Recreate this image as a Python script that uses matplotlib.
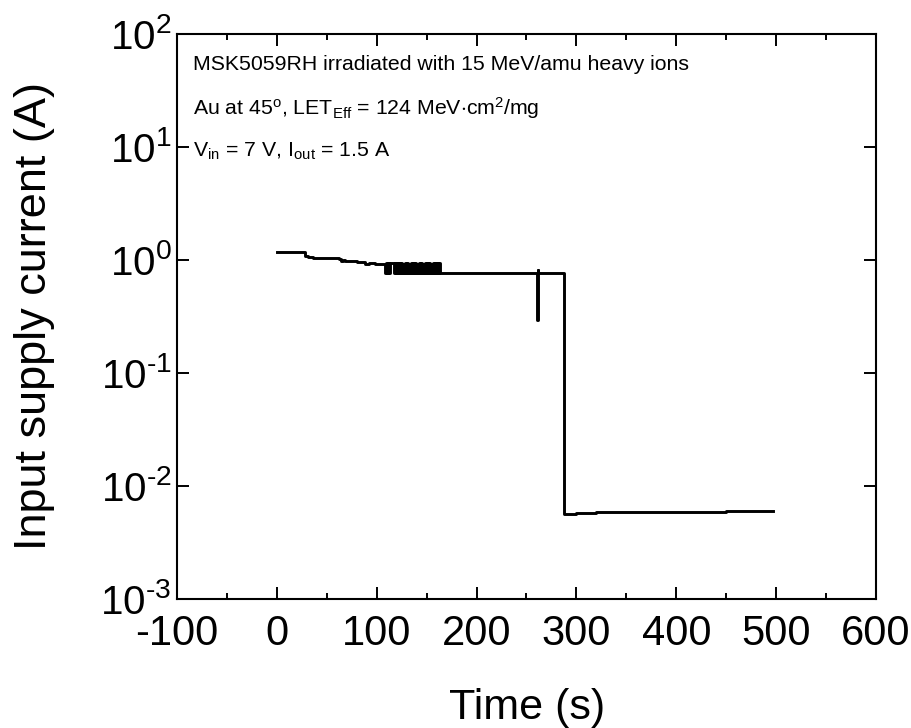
import matplotlib
matplotlib.use("Agg")
import matplotlib.pyplot as plt
from matplotlib.ticker import MultipleLocator, LogLocator, NullLocator, FuncFormatter
import math

plt.rcParams['font.family'] = ['Liberation Sans', 'DejaVu Sans']
plt.rcParams['mathtext.fontset'] = 'custom'
plt.rcParams['mathtext.rm'] = 'Liberation Sans'
plt.rcParams['mathtext.it'] = 'Liberation Sans'
plt.rcParams['mathtext.bf'] = 'Liberation Sans'
plt.rcParams['mathtext.sf'] = 'Liberation Sans'
plt.rcParams['axes.unicode_minus'] = False

# Data: time (s) and input supply current (A)
time_s = [0, 27, 28, 31, 33, 36, 45, 55, 62, 64, 66, 68, 70, 75, 80, 86, 88, 92, 98, 104, 107,
          108, 109, 110, 111, 112, 113, 114, 115, 117, 118, 119, 120, 121, 122, 123, 124,
          125, 126, 127, 128, 129, 130, 131, 132, 133, 134, 135, 136, 137, 138, 139, 140,
          141, 142, 143, 144, 145, 146, 147, 148, 149, 150, 151, 152, 153, 154, 155, 156,
          157, 158, 159, 160, 161, 162, 163, 165, 200, 240, 260, 261, 261.5, 262, 263, 287,
          287.5, 288, 300, 320, 350, 400, 450, 497]
current_a = [1.18, 1.17, 1.08, 1.07, 1.06, 1.05, 1.05, 1.04, 1.02, 0.97, 1.0, 0.98, 0.97, 0.97, 0.96,
             0.96, 0.93, 0.94, 0.93, 0.92, 0.92,
             0.76, 0.95, 0.76, 0.95, 0.76, 0.95, 0.95, 0.95, 0.76, 0.95, 0.76, 0.95, 0.76, 0.95, 0.76, 0.95,
             0.76, 0.93, 0.76, 0.95, 0.76, 0.95, 0.76, 0.93, 0.76, 0.95, 0.76, 0.95, 0.76, 0.95, 0.76, 0.93,
             0.76, 0.95, 0.76, 0.95, 0.76, 0.93, 0.76, 0.95, 0.76, 0.95, 0.76, 0.95, 0.76, 0.93, 0.76, 0.95,
             0.76, 0.95, 0.76, 0.95, 0.76, 0.95, 0.76, 0.77, 0.77, 0.77, 0.77, 0.295, 0.82, 0.77, 0.77, 0.77,
             0.0057, 0.0057, 0.0058, 0.0059, 0.0059, 0.0059, 0.006, 0.006]

annotation_lines = [
    "MSK5059RH irradiated with 15 MeV/amu heavy ions",
    "Au at 45$^{\\mathsf{o}}$, LET$_{\\mathsf{Eff}}$ = 124 MeV$\\cdot$cm$^{\\mathsf{2}}$/mg",
    "V$_{\\mathsf{in}}$ = 7 V, I$_{\\mathsf{out}}$ = 1.5 A",
]

fig = plt.figure(figsize=(9.12, 7.28), dpi=100)
ax = fig.add_axes([177/912, 1-599/728, (876-177)/912, (599-34)/728])

ax.plot(time_s, current_a, color='black', linewidth=2.1, drawstyle='steps-post')

ax.set_yscale('log')
ax.set_xlim(-100, 600)
ax.set_ylim(1e-3, 1e2)
ax.xaxis.set_major_locator(MultipleLocator(100))
ax.xaxis.set_minor_locator(MultipleLocator(50))
ax.yaxis.set_major_locator(LogLocator(base=10, numticks=10))
ax.yaxis.set_minor_locator(NullLocator())
ax.xaxis.set_major_formatter(FuncFormatter(lambda v, p: str(int(round(v)))))
ax.yaxis.set_major_formatter(FuncFormatter(
    lambda v, p: "10$^{\\text{%d}}$" % int(round(math.log10(v)))))

ax.tick_params(which='both', direction='in', top=True, right=True, width=1.4)
ax.tick_params(axis='x', labelsize=30, pad=11)
ax.tick_params(axis='y', labelsize=29, pad=4)
ax.tick_params(which='major', length=8.5)
ax.tick_params(which='minor', length=4.3)
for s in ax.spines.values():
    s.set_linewidth(1.5)

fig.text(35/912, 1-316/728, "Input supply current (A)", rotation=90, ha='center', va='center', fontsize=32.5)
fig.text(527/912, 1-719/728, "Time (s)", ha='center', va='baseline', fontsize=31)

ypos = [0.936, 0.857, 0.782]
for line, yp in zip(annotation_lines, ypos):
    ax.text(0.023, yp, line, transform=ax.transAxes, fontsize=15.3, ha='left', va='baseline')

fig.savefig("out.png", dpi=100)
